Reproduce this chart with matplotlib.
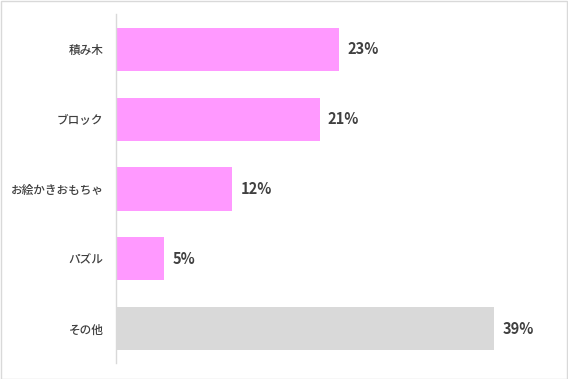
import matplotlib
matplotlib.use('Agg')
import matplotlib.pyplot as plt
from matplotlib.patches import Rectangle

plt.rcParams['font.family'] = ['Noto Sans CJK JP', 'DejaVu Sans']

# Data
categories = ['積み木', 'ブロック', 'お絵かきおもちゃ', 'パズル', 'その他']
values = [23, 21, 12, 5, 39]
value_labels = ['23%', '21%', '12%', '5%', '39%']
bar_colors = ['#ff99ff', '#ff99ff', '#ff99ff', '#ff99ff', '#d9d9d9']

W, H = 568, 379
fig = plt.figure(figsize=(W / 100, H / 100), dpi=100)

# axes placed in pixel terms
left, right, top, bottom = 116, 555, 14.5, 363.5
ax = fig.add_axes([left / W, 1 - bottom / H, (right - left) / W, (bottom - top) / H])

y = range(len(categories))
ax.barh(y, values, height=0.62, color=bar_colors)

px_per_unit = (494 - 116) / 39.0
ax.set_xlim(0, (right - left) / px_per_unit)
ax.set_ylim(len(categories) - 0.5, -0.5)

ax.set_yticks(list(y))
ax.set_yticklabels(categories, fontsize=8.4, color='#404040', fontweight='medium')
ax.tick_params(axis='y', length=0, pad=9)
ax.set_xticks([])

for s in ['top', 'right', 'bottom']:
    ax.spines[s].set_visible(False)
ax.spines['left'].set_color('#d9d9d9')
ax.spines['left'].set_linewidth(1)

for i, (v, lab) in enumerate(zip(values, value_labels)):
    ax.annotate(lab, (v, i), xytext=(6, 0), textcoords='offset points',
                ha='left', va='center', fontsize=10.5, color='#404040',
                fontweight='bold')

# light border around the whole figure
fig.patches.append(Rectangle((0.5 / W, 0.5 / H), 1 - 1.5 / W, 1 - 1.5 / H,
                             transform=fig.transFigure, fill=False,
                             edgecolor='#d9d9d9', linewidth=1))

fig.savefig('out.png', dpi=100)
